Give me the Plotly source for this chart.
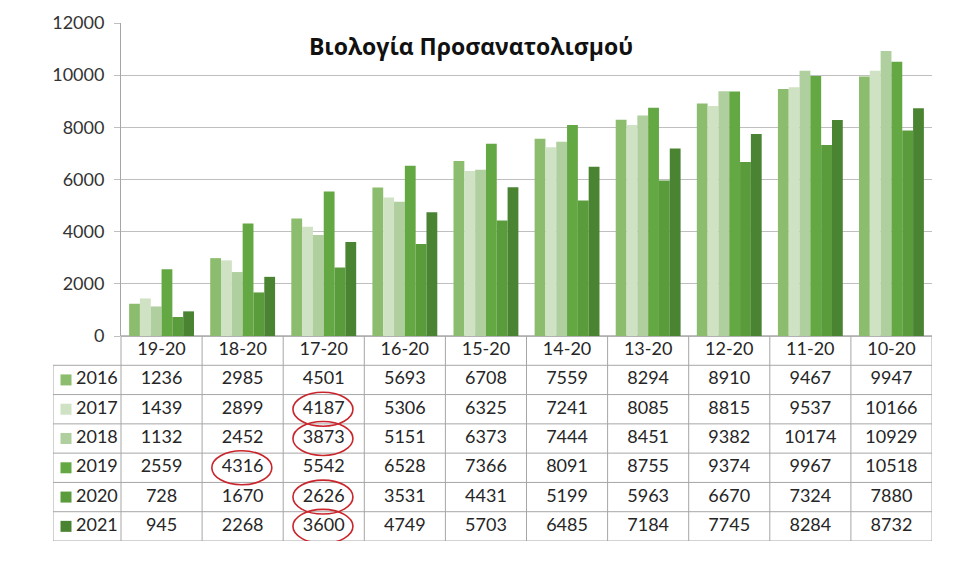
import plotly.graph_objects as go

categories = ["19-20", "18-20", "17-20", "16-20", "15-20", "14-20", "13-20", "12-20", "11-20", "10-20"]
years = ["2016", "2017", "2018", "2019", "2020", "2021"]

v2016 = [1236, 2985, 4501, 5693, 6708, 7559, 8294, 8910, 9467, 9947]
v2017 = [1439, 2899, 4187, 5306, 6325, 7241, 8085, 8815, 9537, 10166]
v2018 = [1132, 2452, 3873, 5151, 6373, 7444, 8451, 9382, 10174, 10929]
v2019 = [2559, 4316, 5542, 6528, 7366, 8091, 8755, 9374, 9967, 10518]
v2020 = [728, 1670, 2626, 3531, 4431, 5199, 5963, 6670, 7324, 7880]
v2021 = [945, 2268, 3600, 4749, 5703, 6485, 7184, 7745, 8284, 8732]

# cells circled in red on the original
circled = [("17-20", "2017"), ("17-20", "2018"), ("18-20", "2019"),
           ("17-20", "2020"), ("17-20", "2021")]

series = [v2016, v2017, v2018, v2019, v2020, v2021]
colors = ["#8cbd6e", "#cfe2c4", "#b0cf9e", "#64a843", "#5a9b3c", "#4a8433"]

# the page adds an 8px body margin, so the figure is a bit smaller than the window
W, H = 952, 557
ml, mr, mt, mb = 45, 28, 15, 24
pw = W - ml - mr
ph = H - mt - mb
leg_px = 68          # width of the legend column left of the value axis
axis_px = 205        # height of the data table under the bars
n = len(categories)
cat_px = (pw - leg_px) / n
leg_u = leg_px / cat_px
FONT = "Lato, Noto Sans, sans-serif"
grid = "#a6a6a6"

xdom0 = leg_px / pw
ydom0 = axis_px / ph

fig = go.Figure()
for yr, vals, c in zip(years, series, colors):
    fig.add_trace(go.Bar(x=categories, y=vals, name=yr, marker=dict(color=c, line=dict(width=0)),
                         showlegend=False, hovertemplate=yr + " %{x}: %{y}<extra></extra>"))

# data table, drawn on its own axes: column i sits under category i, row 0 is the header
xs, ys, txt = [], [], []
for ci, cat in enumerate(categories):
    xs.append(ci); ys.append(0); txt.append(cat)
    for ri, s in enumerate(series):
        xs.append(ci); ys.append(ri + 1); txt.append(str(s[ci]))
fig.add_trace(go.Scatter(x=xs, y=ys, text=txt, mode="text", xaxis="x2", yaxis="y2",
                         textfont=dict(family=FONT, size=18, color="#262626"),
                         textposition="middle center", showlegend=False, hoverinfo="skip"))

left = -0.5 - leg_u
fig.add_trace(go.Scatter(x=[left + 23 / cat_px] * len(years), y=list(range(1, len(years) + 1)),
                         text=years, mode="text", xaxis="x2", yaxis="y2",
                         textfont=dict(family=FONT, size=18, color="#262626"),
                         textposition="middle right", showlegend=False, hoverinfo="skip"))
fig.add_trace(go.Scatter(x=[left + 13 / cat_px] * len(years), y=list(range(1, len(years) + 1)),
                         mode="markers", xaxis="x2", yaxis="y2",
                         marker=dict(symbol="square", size=11, color=colors, line=dict(width=0)),
                         showlegend=False, hoverinfo="skip"))

# table rules
nrows = len(years) + 1
for k in range(nrows + 1):
    yk = k - 0.5
    x0 = -0.5 if k == 0 else left
    fig.add_shape(type="line", xref="x2", yref="y2", x0=x0, x1=n - 0.5, y0=yk, y1=yk,
                  line=dict(color=grid, width=1))
for ci in range(n + 1):
    fig.add_shape(type="line", xref="x2", yref="y2", x0=ci - 0.5, x1=ci - 0.5,
                  y0=-0.5, y1=nrows - 0.5, line=dict(color=grid, width=1))
fig.add_shape(type="line", xref="x2", yref="y2", x0=left, x1=left,
              y0=0.5, y1=nrows - 0.5, line=dict(color=grid, width=1))

# red hand-drawn circles around table cells
for cat, yr in circled:
    ci = categories.index(cat)
    ri = years.index(yr) + 1
    fig.add_shape(type="circle", xref="x2", yref="y2",
                  x0=ci - 0.38, x1=ci + 0.36, y0=ri - 0.58, y1=ri + 0.58,
                  line=dict(color="#c9252c", width=1.6))

fig.update_layout(
    width=W, height=H,
    margin=dict(l=ml, r=mr, t=mt, b=mb, autoexpand=False),
    paper_bgcolor="white", plot_bgcolor="rgba(0,0,0,0)",
    barmode="group", bargap=0.2, bargroupgap=0,
    font=dict(family=FONT, color="#333333"),
    title=dict(text="<b>Βιολογία Προσανατολισμού</b>", x=463 / W, xanchor="center",
               y=1 - 39 / H, yanchor="middle",
               font=dict(family="Open Sans, Noto Sans, sans-serif", size=23, color="#111111")),
    xaxis=dict(domain=[xdom0, 1], range=[-0.5, n - 0.5], showticklabels=False, automargin=False,
               showline=False, showgrid=False, zeroline=False),
    yaxis=dict(domain=[ydom0, 1], range=[0, 12000], dtick=2000, tickformat="d", automargin=False,
               showgrid=True, gridcolor="#bfbfbf", ticklabelstandoff=6,
               showline=True, linecolor=grid, ticks="outside", ticklen=6, tickcolor="#bfbfbf",
               zeroline=True, zerolinecolor="#bfbfbf",
               tickfont=dict(family=FONT, size=18, color="#333333")),
    xaxis2=dict(domain=[0, 1], range=[left, n - 0.5], anchor="y2", visible=False, automargin=False),
    yaxis2=dict(domain=[0, ydom0], range=[nrows - 0.5, -0.5], anchor="x2", visible=False,
                automargin=False),
)

fig.write_html("out.html")
